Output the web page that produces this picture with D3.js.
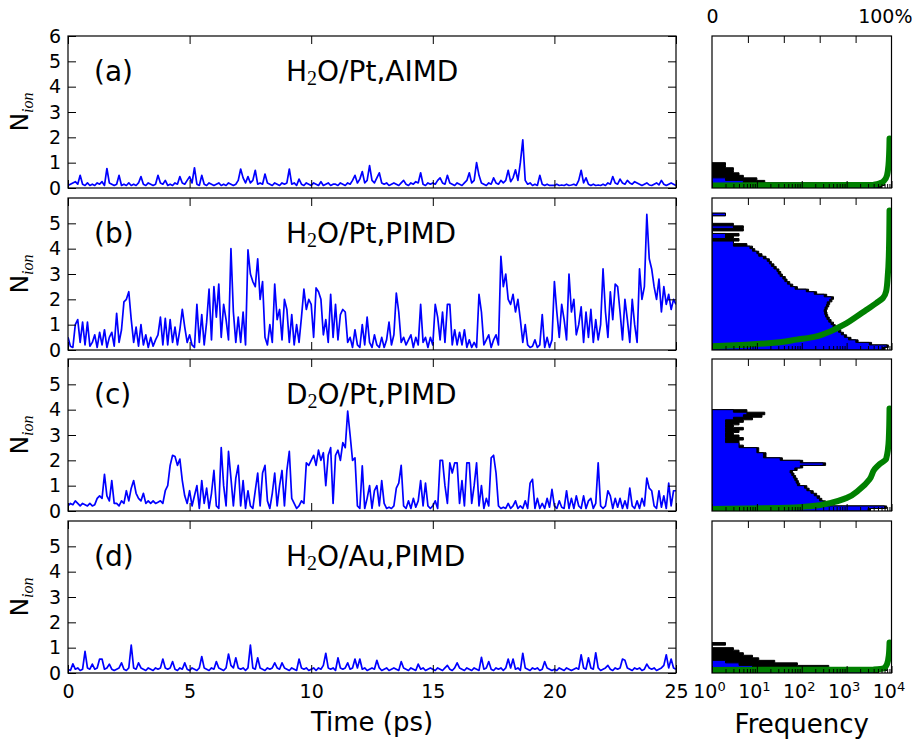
<!DOCTYPE html>
<html>
<head>
<meta charset="utf-8">
<script src="https://cdn.jsdelivr.net/npm/d3@7"></script>
<style>
  body { margin: 0; background: #fff; }
  svg { font-family: "DejaVu Sans", sans-serif; }
</style>
</head>
<body>
<svg width="913" height="740"></svg>
<script>
// N_ion traces, one value every 0.1 ps
const timeStep = 0.1;

const nionA = [
  0.1, 0.15, 0.2, 0.25, 0.15, 0.5, 0.15, 0.1, 0.2, 0.1,
  0.15, 0.1, 0.2, 0.15, 0.25, 0.1, 0.77, 0.2, 0.15, 0.1,
  0.15, 0.5, 0.1, 0.15, 0.1, 0.2, 0.1, 0.15, 0.1, 0.2,
  0.45, 0.15, 0.1, 0.2, 0.15, 0.1, 0.15, 0.5, 0.2, 0.15,
  0.3, 0.1, 0.15, 0.1, 0.2, 0.15, 0.45, 0.2, 0.15, 0.3,
  0.45, 0.2, 0.8, 0.15, 0.1, 0.5, 0.15, 0.1, 0.2, 0.15,
  0.1, 0.15, 0.2, 0.1, 0.15, 0.1, 0.2, 0.15, 0.1, 0.15,
  0.3, 0.75, 0.4, 0.2, 0.45, 0.2, 0.3, 0.7, 0.15, 0.2,
  0.15, 0.55, 0.2, 0.15, 0.1, 0.2, 0.15, 0.1, 0.2, 0.15,
  0.2, 0.75, 0.15, 0.2, 0.1, 0.35, 0.15, 0.1, 0.2, 0.15,
  0.1, 0.2, 0.15, 0.1, 0.25, 0.1, 0.15, 0.2, 0.1, 0.15,
  0.15, 0.1, 0.2, 0.15, 0.1, 0.2, 0.15, 0.3, 0.5, 0.2,
  0.35, 0.65, 0.2, 0.3, 0.88, 0.3, 0.2, 0.4, 0.6, 0.2,
  0.15, 0.2, 0.1, 0.15, 0.2, 0.15, 0.1, 0.2, 0.3, 0.15,
  0.1, 0.2, 0.15, 0.25, 0.2, 0.6, 0.15, 0.1, 0.2, 0.15,
  0.2, 0.15, 0.3, 0.4, 0.2, 0.15, 0.5, 0.2, 0.15, 0.1,
  0.2, 0.15, 0.1, 0.2, 0.3, 0.6, 0.2, 0.3, 1.0, 0.5,
  0.2, 0.15, 0.1, 0.2, 0.15, 0.4, 0.2, 0.15, 0.3, 0.2,
  0.3, 0.7, 0.25, 0.4, 0.72, 0.3, 1.0, 1.9, 0.3, 0.15,
  0.2, 0.1, 0.15, 0.1, 0.5, 0.15, 0.1, 0.15, 0.1, 0.1,
  0.1, 0.15, 0.1, 0.12, 0.1, 0.15, 0.1, 0.12, 0.15, 0.1,
  0.3, 0.7, 0.2, 0.4, 0.15, 0.1, 0.15, 0.1, 0.12, 0.1,
  0.15, 0.1, 0.2, 0.15, 0.45, 0.2, 0.15, 0.35, 0.2, 0.15,
  0.3, 0.2, 0.15, 0.25, 0.2, 0.15, 0.1, 0.15, 0.2, 0.12,
  0.1, 0.15, 0.2, 0.12, 0.3, 0.15, 0.1, 0.15, 0.2, 0.15,
  0.1
];

const nionB = [
  0.5, 0.15, 0.1, 1.0, 1.2, 0.3, 1.1, 0.2, 1.1, 0.15,
  0.3, 0.6, 0.1, 0.7, 0.2, 0.8, 0.1, 0.5, 0.7, 0.15,
  1.45, 0.3, 0.8, 1.9, 2.0, 2.3, 1.2, 0.3, 0.9, 0.15,
  1.0, 0.2, 0.6, 0.1, 0.5, 0.15, 0.4, 0.6, 1.3, 0.2,
  1.25, 0.2, 1.2, 0.3, 0.9, 0.2, 0.8, 1.6, 0.9, 0.3,
  0.6, 0.2, 0.1, 1.8, 0.3, 1.4, 0.2, 1.1, 2.4, 0.4,
  2.5, 1.3, 2.6, 0.5, 1.8, 1.2, 0.4, 4.0, 1.5, 0.3,
  1.3, 0.3, 1.5, 0.2, 3.95, 3.0, 2.7, 2.5, 3.6, 2.0,
  2.7, 0.5, 0.2, 1.0, 0.3, 2.6, 1.2, 1.6, 0.4, 2.0,
  1.6, 0.3, 1.4, 0.2, 1.0, 0.3, 1.3, 2.4, 1.6, 2.0,
  1.8, 0.5, 2.45, 2.3, 2.0, 0.6, 1.2, 0.3, 2.2, 0.5,
  1.8, 0.4, 1.4, 1.6, 1.5, 0.3, 0.5, 0.1, 0.8, 0.2,
  0.1, 1.0, 0.2, 1.3, 0.3, 0.1, 0.6, 0.2, 0.1, 0.5,
  0.1, 0.4, 1.1, 0.2, 0.6, 2.25, 1.5, 0.3, 0.5, 0.2,
  0.4, 0.6, 0.1, 0.5, 0.2, 1.8, 0.3, 0.5, 0.1, 0.5,
  0.2, 1.8, 1.3, 0.4, 1.5, 0.3, 1.8, 1.8, 0.2, 0.8,
  0.2, 0.7, 0.2, 0.8, 0.1, 0.4, 0.1, 0.3, 0.1, 2.2,
  1.5, 0.2, 0.4, 0.6, 0.1, 0.4, 0.6, 0.2, 3.7, 2.5,
  3.0, 2.0, 1.8, 2.2, 1.5, 2.0, 1.2, 0.3, 1.0, 0.2,
  0.1, 0.15, 0.4, 0.1, 0.2, 1.4, 0.1, 0.5, 0.1, 0.4,
  2.7, 1.5, 0.5, 1.8, 1.2, 0.4, 3.0, 1.5, 2.0, 0.6,
  1.0, 1.7, 0.3, 1.5, 0.5, 1.6, 0.3, 1.2, 0.4, 1.0,
  3.2, 1.5, 0.5, 2.3, 1.2, 2.6, 2.5, 1.5, 0.4, 2.0,
  1.2, 0.3, 2.0, 1.0, 0.3, 3.2, 2.0, 2.5, 5.35, 3.6,
  3.2, 2.5, 2.0, 2.8, 1.5, 2.5, 1.8, 2.2, 1.6, 2.0,
  1.8
];

const nionC = [
  0.2, 0.3, 0.25, 0.4, 0.3, 0.2, 0.3, 0.25, 0.2, 0.3,
  0.2, 0.25, 0.5, 0.6, 0.5, 1.45, 0.6, 0.4, 1.2, 0.3,
  0.3, 0.2, 0.4, 0.3, 0.8, 0.4, 0.9, 1.2, 0.7, 0.5,
  0.4, 0.7, 0.3, 0.4, 0.3, 0.4, 0.3, 0.35, 0.4, 0.3,
  0.8, 1.0, 1.8, 2.2, 2.15, 1.8, 2.05, 1.2, 0.6, 0.3,
  0.8, 0.2, 0.6, 1.0, 0.1, 1.2, 0.3, 0.9, 0.1, 0.7,
  1.6, 0.2, 0.1, 2.5, 1.0, 0.2, 2.35, 1.3, 0.2, 1.3,
  1.8, 0.2, 1.2, 0.1, 0.8, 0.2, 0.1, 0.8, 1.5, 0.2,
  1.5, 1.8, 0.4, 0.1, 0.7, 1.5, 0.2, 1.0, 1.6, 0.2,
  1.6, 2.35, 0.5, 0.3, 0.1, 0.2, 0.4, 0.3, 1.9, 1.8,
  2.0, 2.2, 1.8, 2.4, 2.0, 2.3, 1.0, 2.2, 2.5, 0.3,
  2.2, 2.4, 2.0, 2.7, 2.5, 3.94, 3.0, 2.0, 2.1, 0.2,
  0.1, 1.78, 0.1, 0.5, 1.0, 0.1, 0.8, 1.0, 0.2, 1.2,
  0.3, 0.1, 0.15, 0.1, 0.2, 0.9, 1.1, 1.8, 0.2, 0.1,
  0.4, 0.1, 0.5, 0.15, 0.4, 1.2, 0.2, 1.1, 0.2, 0.1,
  0.2, 0.4, 0.1, 2.0, 2.0, 1.0, 0.3, 1.9, 1.5, 1.9,
  1.9, 0.3, 1.2, 0.2, 1.9, 1.9, 0.3, 1.0, 1.9, 0.2,
  1.0, 0.1, 0.5, 0.2, 2.1, 2.2, 1.5, 0.2, 0.1, 0.15,
  0.1, 0.3, 0.1, 0.2, 0.4, 0.1, 0.2, 0.1, 0.4, 0.1,
  1.1, 1.25, 0.1, 0.5, 0.1, 0.3, 0.1, 0.5, 0.15, 0.85,
  0.2, 0.1, 0.4, 0.15, 0.1, 0.8, 0.1, 0.5, 0.1, 0.6,
  0.2, 0.1, 0.6, 0.1, 0.4, 0.5, 0.1, 0.3, 1.9, 0.2,
  0.1, 0.2, 0.8, 0.6, 0.1, 0.5, 0.15, 0.5, 0.1, 0.4,
  0.1, 0.9, 0.2, 0.1, 0.4, 0.1, 0.5, 0.2, 1.3, 0.9,
  0.8, 0.2, 0.1, 0.8, 0.15, 0.6, 0.1, 1.1, 0.2, 0.8,
  0.8
];

const nionD = [
  0.15, 0.1, 0.36, 0.15, 0.2, 0.1, 0.15, 0.85, 0.2, 0.15,
  0.35, 0.15, 0.2, 0.55, 0.55, 0.15, 0.2, 0.35, 0.15, 0.1,
  0.15, 0.2, 0.4, 0.15, 0.1, 0.2, 1.1, 0.2, 0.15, 0.4,
  0.2, 0.15, 0.1, 0.2, 0.15, 0.1, 0.2, 0.15, 0.2, 0.55,
  0.2, 0.15, 0.2, 0.45, 0.15, 0.1, 0.2, 0.15, 0.4, 0.15,
  0.1, 0.2, 0.15, 0.1, 0.2, 0.65, 0.2, 0.15, 0.1, 0.2,
  0.15, 0.45, 0.2, 0.15, 0.1, 0.2, 0.75, 0.3, 0.2, 0.6,
  0.2, 0.15, 0.2, 0.1, 0.2, 1.1, 0.2, 0.15, 0.6, 0.2,
  0.15, 0.1, 0.2, 0.15, 0.2, 0.4, 0.2, 0.15, 0.4, 0.2,
  0.15, 0.1, 0.2, 0.15, 0.1, 0.55, 0.2, 0.15, 0.2, 0.1,
  0.15, 0.2, 0.1, 0.2, 0.15, 0.3, 0.78, 0.2, 0.15, 0.2,
  0.1, 0.6, 0.2, 0.15, 0.2, 0.4, 0.15, 0.2, 0.55, 0.2,
  0.55, 0.15, 0.2, 0.1, 0.15, 0.2, 0.15, 0.5, 0.2, 0.1,
  0.15, 0.2, 0.1, 0.15, 0.2, 0.15, 0.1, 0.45, 0.2, 0.15,
  0.1, 0.2, 0.15, 0.1, 0.35, 0.15, 0.2, 0.1, 0.15, 0.2,
  0.15, 0.1, 0.2, 0.15, 0.1, 0.2, 0.3, 0.15, 0.1, 0.2,
  0.4, 0.2, 0.15, 0.1, 0.2, 0.15, 0.1, 0.2, 0.15, 0.1,
  0.62, 0.15, 0.2, 0.45, 0.15, 0.1, 0.2, 0.15, 0.2, 0.1,
  0.2, 0.55, 0.2, 0.55, 0.15, 0.2, 0.1, 0.78, 0.2, 0.15,
  0.1, 0.2, 0.15, 0.2, 0.1, 0.15, 0.45, 0.2, 0.15, 0.1,
  0.15, 0.1, 0.2, 0.15, 0.1, 0.2, 0.15, 0.1, 0.15, 0.2,
  0.15, 0.72, 0.2, 0.15, 0.6, 0.2, 0.15, 0.8, 0.2, 0.1,
  0.15, 0.2, 0.3, 0.15, 0.1, 0.2, 0.15, 0.2, 0.55, 0.5,
  0.2, 0.15, 0.1, 0.2, 0.15, 0.2, 0.1, 0.15, 0.35, 0.2,
  0.15, 0.2, 0.1, 0.15, 0.2, 0.3, 0.72, 0.2, 0.55, 0.2,
  0.15
];

// histograms of N_ion, bins of 0.1 from 0 upwards (counts)
const histBin = 0.1;

const blackHistA = [6000, 7000, 15, 10, 5, 4, 3, 3, 2, 2];
const blueHistA = [5000, 6000, 5, 2];

const blackHistB = [
  7000, 8500, 3600, 1800, 1250, 1000, 850, 740, 650, 560,
  510, 450, 410, 380, 365, 355, 370, 400, 420, 470,
  510, 360, 215, 142, 80, 63, 54, 47, 43, 37,
  34, 31, 27, 24, 21, 19, 16, 13, 11, 9,
  8, 6, 3, 4, 3, 4, 0, 5, 5, 3,
  0, 0, 0, 2
];
const blueHistB = [
  6300, 7900, 3200, 1600, 1100, 890, 760, 660, 575, 500,
  450, 400, 365, 340, 325, 316, 330, 355, 370, 420,
  455, 316, 190, 126, 71, 56, 48, 42, 38, 33,
  30, 28, 24, 21, 19, 17, 14, 11, 10, 8,
  7, 3, 3, 0, 2, 2, 0, 0, 3, 0,
  0, 0, 0, 2
];

const blackHistC = [
  3400, 7800, 410, 340, 280, 250, 215, 180, 146, 130,
  90, 84, 79, 73, 67, 62, 79, 105, 340, 105,
  37, 16, 16, 11, 11, 5, 4, 4, 5, 4,
  3, 4, 5, 3, 4, 5, 8, 13, 15, 6
];
const blueHistC = [
  3000, 7000, 360, 300, 250, 220, 190, 160, 130, 115,
  80, 75, 70, 65, 60, 55, 70, 93, 300, 93,
  33, 14, 14, 10, 10, 4, 4, 2, 2, 2,
  2, 2, 2, 2, 2, 2, 3, 5, 6, 3
];

const blackHistD = [5000, 8000, 400, 80, 25, 11, 8, 5, 4, 3, 1, 2];
const blueHistD = [4000, 7000, 8, 4, 2];

// cumulative distribution (green): percent vs N_ion
const cdfPctA = [0, 50, 90, 94, 96, 97.5, 98.3, 98.7, 98.9];
const cdfNionA = [0.1, 0.11, 0.13, 0.2, 0.3, 0.5, 0.9, 1.4, 1.95];
const cdfPctB = [0, 19.3, 37.8, 47, 56.3, 63.7, 69.3, 74.8, 80.4, 85.9, 91.5, 95.2, 97, 97.9, 98.5, 98.9];
const cdfNionB = [0.15, 0.21, 0.31, 0.41, 0.51, 0.67, 0.85, 1.05, 1.31, 1.58, 1.85, 2.05, 2.31, 2.91, 3.71, 5.51];
const cdfPctC = [0, 37.8, 56, 65.6, 74.8, 82.2, 87.8, 90.6, 93.3, 97, 98.5, 98.9];
const cdfNionC = [0.08, 0.12, 0.2, 0.31, 0.51, 0.85, 1.25, 1.65, 1.85, 2.05, 2.85, 4.05];
const cdfPctD = [0, 90, 96, 97.5, 98.5, 98.9];
const cdfNionD = [0.12, 0.14, 0.2, 0.35, 0.7, 1.2];

const panelTags = ["(a)", "(b)", "(c)", "(d)"];
const panelNames = [
  ["H", "2", "O/Pt,AIMD"],
  ["H", "2", "O/Pt,PIMD"],
  ["D", "2", "O/Pt,PIMD"],
  ["H", "2", "O/Au,PIMD"]
];
const nionTicksTop = [0, 1, 2, 3, 4, 5, 6];
const nionTicks = [0, 1, 2, 3, 4, 5];
const timeTicks = [0, 5, 10, 15, 20, 25];
const pctTicks = [20, 40, 60, 80];
const freqTicks = [1, 10, 100, 1000, 10000];

const panels = [
  { nion: nionA, black: blackHistA, blue: blueHistA, pct: cdfPctA, cdf: cdfNionA, yTicks: nionTicksTop },
  { nion: nionB, black: blackHistB, blue: blueHistB, pct: cdfPctB, cdf: cdfNionB, yTicks: nionTicks },
  { nion: nionC, black: blackHistC, blue: blueHistC, pct: cdfPctC, cdf: cdfNionC, yTicks: nionTicks },
  { nion: nionD, black: blackHistD, blue: blueHistD, pct: cdfPctD, cdf: cdfNionD, yTicks: nionTicks }
];

const svg = d3.select("svg");
const defs = svg.append("defs");

const plotLeft = 68, plotRight = 676;
const histLeft = 712, histRight = 891.5;
const panelTop = [36, 198, 359, 521];
const panelHeight = 152;

const x = d3.scaleLinear().domain([0, 25]).range([plotLeft, plotRight]);
const xFreq = d3.scaleLog().domain([1, 1e4]).range([histLeft, histRight]);
const xPct = d3.scaleLinear().domain([0, 100]).range([histLeft, histRight]);
const minorFreq = xFreq.ticks().filter(d => !freqTicks.includes(d));

function styleAxis(g, size) {
  g.select(".domain").remove();
  g.selectAll(".tick line").attr("stroke", "#000").attr("stroke-width", 1);
  g.selectAll(".tick text")
    .attr("fill", "#000")
    .attr("font-family", "DejaVu Sans")
    .attr("font-size", size || 19);
}

// outline of a horizontal step histogram, as [count, nion] corners
function stepCorners(counts) {
  const pts = [[1, 0]];
  counts.forEach(function (c, k) {
    const v = Math.max(c, 1);
    pts.push([v, k * histBin], [v, (k + 1) * histBin]);
  });
  pts.push([1, counts.length * histBin]);
  return pts;
}

panels.forEach(function (p, i) {
  const top = panelTop[i];
  const bottom = top + panelHeight;
  const y = d3.scaleLinear().domain([0, 6]).range([bottom, top]);
  const last = i === panels.length - 1;

  // clip areas
  defs.append("clipPath").attr("id", "clipL" + i)
    .append("rect").attr("x", plotLeft).attr("y", top)
    .attr("width", plotRight - plotLeft).attr("height", panelHeight);
  defs.append("clipPath").attr("id", "clipR" + i)
    .append("rect").attr("x", histLeft).attr("y", top)
    .attr("width", histRight - histLeft).attr("height", panelHeight);

  // ---- time series ----
  const line = d3.line()
    .x((d, k) => x(k * timeStep))
    .y(d => y(d));

  svg.append("path")
    .datum(p.nion)
    .attr("clip-path", "url(#clipL" + i + ")")
    .attr("d", line)
    .attr("fill", "none")
    .attr("stroke", "#0000ff")
    .attr("stroke-width", 1.7)
    .attr("stroke-linejoin", "round");

  svg.append("g").attr("transform", `translate(${plotLeft},0)`)
    .call(d3.axisLeft(y).tickValues(p.yTicks).tickSize(-8).tickPadding(7).tickFormat(d3.format("d")))
    .call(styleAxis);
  svg.append("g").attr("transform", `translate(${plotRight},0)`)
    .call(d3.axisRight(y).tickValues(p.yTicks).tickSize(-8).tickFormat(""))
    .call(styleAxis);
  svg.append("g").attr("transform", `translate(0,${top})`)
    .call(d3.axisTop(x).tickValues(timeTicks).tickSize(-8).tickFormat(""))
    .call(styleAxis);
  svg.append("g").attr("transform", `translate(0,${bottom})`)
    .call(d3.axisBottom(x).tickValues(timeTicks).tickSize(-8).tickPadding(12)
      .tickFormat(last ? d3.format("d") : ""))
    .call(styleAxis);

  svg.append("rect")
    .attr("x", plotLeft).attr("y", top)
    .attr("width", plotRight - plotLeft).attr("height", panelHeight)
    .attr("fill", "none").attr("stroke", "#000").attr("stroke-width", 1.2);

  // y label N_ion
  const ylab = svg.append("text")
    .attr("transform", `translate(27.5,${(top + bottom) / 2}) rotate(-90)`)
    .attr("text-anchor", "middle")
    .attr("font-size", 25);
  ylab.append("tspan").text("N");
  ylab.append("tspan")
    .attr("font-family", "Liberation Serif")
    .attr("font-style", "italic")
    .attr("font-size", 16)
    .attr("dy", 5.5)
    .text("ion");

  // panel tag and system name
  svg.append("text")
    .attr("x", 94).attr("y", top + 45)
    .attr("font-size", 28)
    .text(panelTags[i]);
  const name = svg.append("text")
    .attr("x", 286).attr("y", top + 45)
    .attr("font-size", 28);
  name.append("tspan").text(panelNames[i][0]);
  name.append("tspan")
    .attr("font-family", "Liberation Serif")
    .attr("font-size", 20)
    .attr("dy", 4)
    .text(panelNames[i][1]);
  name.append("tspan").attr("dy", -4).text(panelNames[i][2]);

  // ---- histogram panel ----
  const hg = svg.append("g").attr("clip-path", "url(#clipR" + i + ")");
  const stepLine = d3.line()
    .x(d => xFreq(d[0]))
    .y(d => y(d[1]));

  hg.append("path")
    .attr("d", stepLine(stepCorners(p.black)) + "Z")
    .attr("fill", "#000")
    .attr("stroke", "#000")
    .attr("stroke-width", 1);
  hg.append("path")
    .attr("d", stepLine(stepCorners(p.blue)) + "Z")
    .attr("fill", "#0000ff")
    .attr("stroke", "#000")
    .attr("stroke-width", 1);

  const cdfLine = d3.line()
    .x((d, k) => xPct(p.pct[k]))
    .y(d => y(d))
    .curve(d3.curveMonotoneY);
  hg.append("path")
    .datum(p.cdf)
    .attr("d", cdfLine)
    .attr("fill", "none")
    .attr("stroke", "#008000")
    .attr("stroke-width", 6)
    .attr("stroke-linecap", "round");

  svg.append("g").attr("transform", `translate(0,${top})`)
    .call(d3.axisTop(xPct).tickValues(pctTicks).tickSize(-7).tickFormat(""))
    .call(styleAxis);
  svg.append("g").attr("transform", `translate(0,${bottom})`)
    .call(d3.axisBottom(xFreq).tickValues(minorFreq).tickSize(-4).tickFormat(""))
    .call(styleAxis);
  const fx = svg.append("g").attr("transform", `translate(0,${bottom})`)
    .call(d3.axisBottom(xFreq).tickValues(freqTicks).tickSize(-7).tickPadding(12)
      .tickFormat(last ? d => d : ""))
    .call(styleAxis);

  if (last) {
    fx.selectAll(".tick text").each(function (d) {
      const t = d3.select(this);
      t.text(null).attr("dx", -3);
      t.append("tspan").text("10");
      t.append("tspan")
        .attr("font-size", 13)
        .attr("dy", -7)
        .text(Math.round(Math.log10(d)));
    });
  }

  if (i === 0) {
    const pg = svg.append("g").attr("transform", `translate(0,${top})`)
      .call(d3.axisTop(xPct).tickValues([0, 100]).tickSize(0).tickPadding(13)
        .tickFormat(d => d === 0 ? "0" : "100%"))
      .call(styleAxis);
    // keep the right label inside the page
    pg.selectAll(".tick text").filter(d => d === 100)
      .attr("text-anchor", "end")
      .attr("x", 912 - xPct(100));
  }

  svg.append("rect")
    .attr("x", histLeft).attr("y", top)
    .attr("width", histRight - histLeft).attr("height", panelHeight)
    .attr("fill", "none").attr("stroke", "#000").attr("stroke-width", 1.2);
});

// axis titles
svg.append("text")
  .attr("x", (plotLeft + plotRight) / 2).attr("y", 731)
  .attr("text-anchor", "middle")
  .attr("font-size", 26)
  .text("Time (ps)");
svg.append("text")
  .attr("x", (histLeft + histRight) / 2).attr("y", 733)
  .attr("text-anchor", "middle")
  .attr("font-size", 26)
  .text("Frequency");
</script>
</body>
</html>
